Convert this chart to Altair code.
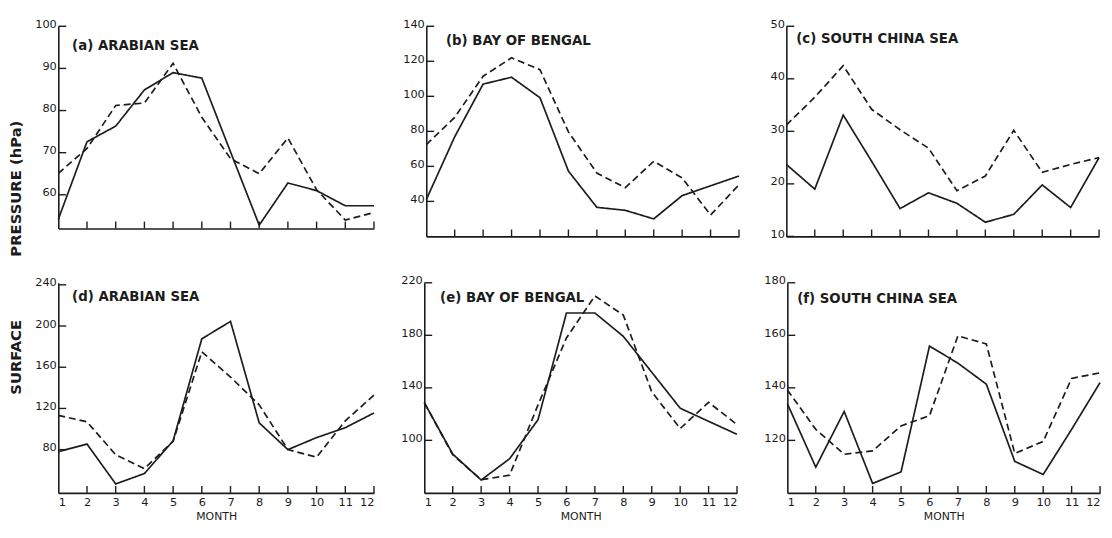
import altair as alt
import pandas as pd

months = list(range(1, 13))

# (a) Arabian Sea – upper panel
a_solid = [54.2, 72.6, 76.3, 84.9, 89.0, 87.7, 70.2, 52.8, 62.8, 61.0, 57.4, 57.4]
a_dashed = [65.1, 71.0, 81.2, 81.8, 91.2, 78.4, 68.6, 65.0, 73.5, 61.2, 54.0, 55.8]
# (b) Bay of Bengal – upper panel
b_solid = [41.0, 76.9, 107.0, 110.9, 99.2, 57.3, 36.6, 34.9, 30.0, 43.3, 48.9, 54.5]
b_dashed = [72.4, 88.0, 111.5, 122.0, 115.2, 79.7, 56.2, 47.8, 62.9, 53.4, 32.2, 49.5]
# (c) South China Sea – upper panel
c_solid = [23.7, 19.0, 33.1, 24.3, 15.3, 18.3, 16.3, 12.7, 14.2, 19.8, 15.5, 25.0]
c_dashed = [31.2, 36.5, 42.5, 34.2, 30.3, 26.8, 18.7, 21.5, 30.2, 22.2, 23.7, 25.0]
# (d) Arabian Sea – lower panel
d_solid = [78.0, 85.4, 46.7, 56.8, 88.6, 187.6, 204.5, 106.0, 80.0, 91.7, 101.3, 115.6]
d_dashed = [113.3, 107.0, 75.0, 61.6, 88.0, 175.0, 150.5, 123.5, 80.0, 72.7, 108.0, 133.0]
# (e) Bay of Bengal – lower panel
e_solid = [128.7, 89.6, 69.8, 86.0, 115.7, 197.0, 197.0, 179.2, 151.9, 124.5, 114.5, 104.6]
e_dashed = [128.7, 89.0, 70.0, 73.5, 127.0, 178.0, 210.0, 195.4, 137.0, 109.0, 129.0, 112.0]
# (f) South China Sea – lower panel
f_solid = [134.0, 109.8, 131.0, 103.6, 108.0, 155.9, 149.4, 141.4, 112.0, 107.0, 124.2, 142.0]
f_dashed = [139.2, 124.2, 114.7, 116.0, 125.5, 129.4, 159.8, 156.7, 115.0, 119.6, 143.6, 145.7]

panel_labels = ["(a) ARABIAN SEA", "(b) BAY OF BENGAL", "(c) SOUTH CHINA SEA",
                "(d) ARABIAN SEA", "(e) BAY OF BENGAL", "(f) SOUTH CHINA SEA"]
y_domains = [[52, 100], [20, 140], [10, 50], [38, 242], [60, 220], [100, 180]]
y_ticks = [[60, 70, 80, 90, 100], [40, 60, 80, 100, 120, 140], [10, 20, 30, 40, 50],
           [80, 120, 160, 200, 240], [100, 140, 180, 220], [120, 140, 160, 180]]
x_tick_marks = months[1:]
series_names = ["solid", "dashed"]

INK = "#1c1c1c"
FONT = "DejaVu Sans"


def make_panel(label, solid, dashed, ydom, yt, width, height, bottom_row, ytitle, title_y,
               lab_x, lab_y, flush=False):
    df = pd.DataFrame({
        "month": months * 2,
        "value": solid + dashed,
        "series": ["solid"] * 12 + ["dashed"] * 12,
    })
    xscale = alt.Scale(domain=[1, 12], nice=False, zero=False)
    yscale = alt.Scale(domain=ydom, nice=False, zero=False)

    xaxis_kw = dict(ticks=False, grid=False, domainColor=INK, domainWidth=1.6)
    if bottom_row:
        xaxis_kw.update(values=months, labels=True, title="MONTH", labelFont=FONT,
                        labelFontSize=11.5, labelColor=INK, labelPadding=4, labelOverlap=False,
                        titleFont=FONT, titleFontSize=11, titleFontWeight="normal",
                        titleColor=INK, titlePadding=2, format="d")
        if flush:
            xaxis_kw["labelFlush"] = True
    else:
        xaxis_kw.update(labels=False, title=None)

    yaxis_kw = dict(values=yt, ticks=False, grid=False, domainColor=INK, domainWidth=1.6,
                    labelFont=FONT, labelFontSize=11.5, labelColor=INK, labelPadding=2,
                    labelOverlap=False, labelBaseline="alphabetic", labelOffset=1, format="d")
    if ytitle:
        yaxis_kw.update(title=ytitle, titleFont=FONT, titleFontSize=15, titleFontWeight="bold",
                        titleColor=INK, titleAngle=270, titleAlign="left", titleBaseline="top",
                        titleX=-50, titleY=title_y)
    else:
        yaxis_kw.update(title=None)

    xaxis = alt.Axis(**xaxis_kw)
    yaxis = alt.Axis(**yaxis_kw)

    lines = alt.Chart(df).mark_line(color=INK, strokeWidth=1.7).encode(
        x=alt.X("month:Q", scale=xscale, axis=xaxis),
        y=alt.Y("value:Q", scale=yscale, axis=yaxis),
        strokeDash=alt.StrokeDash("series:N", scale=alt.Scale(domain=series_names, range=[[1, 0], [7, 4]]),
                                  legend=None),
        detail="series:N",
    )

    ytick_rules = alt.Chart(pd.DataFrame({"value": yt})).mark_rule(color=INK, strokeWidth=1.4).encode(
        y=alt.Y("value:Q", scale=yscale, axis=yaxis),
        x=alt.value(0), x2=alt.value(8),
    )
    xtick_rules = alt.Chart(pd.DataFrame({"month": x_tick_marks})).mark_rule(color=INK, strokeWidth=1.4).encode(
        x=alt.X("month:Q", scale=xscale, axis=xaxis),
        y=alt.value(height), y2=alt.value(height - 7),
    )
    text = alt.Chart(pd.DataFrame({"t": [label]})).mark_text(
        align="left", baseline="middle", font=FONT, fontSize=13.5, fontWeight="bold", color=INK
    ).encode(text="t:N", x=alt.value(lab_x), y=alt.value(lab_y))

    return alt.layer(lines, ytick_rules, xtick_rules, text).properties(width=width, height=height)


pa = make_panel(panel_labels[0], a_solid, a_dashed, y_domains[0], y_ticks[0], 320, 205, False,
                "PRESSURE (hPa)", 233, 14, 20)
pb = make_panel(panel_labels[1], b_solid, b_dashed, y_domains[1], y_ticks[1], 317, 213, False,
                None, 0, 20, 15)
pc = make_panel(panel_labels[2], c_solid, c_dashed, y_domains[2], y_ticks[2], 317, 213, False,
                None, 0, 10, 13)
pd_ = make_panel(panel_labels[3], d_solid, d_dashed, y_domains[3], y_ticks[3], 320, 213, True,
                 "SURFACE", 113, 14, 14)
pe = make_panel(panel_labels[4], e_solid, e_dashed, y_domains[4], y_ticks[4], 317, 213, True,
                None, 0, 16, 15)
pf = make_panel(panel_labels[5], f_solid, f_dashed, y_domains[5], y_ticks[5], 317, 213, True,
                None, 0, 10, 16, flush=True)

top = alt.hconcat(alt.hconcat(pa, pb, spacing=25), pc, spacing=27)
bot = alt.hconcat(alt.hconcat(pd_, pe, spacing=23), pf, spacing=23)

chart = alt.vconcat(top, bot, spacing=19).properties(
    padding={"left": 0, "top": 7, "right": 0, "bottom": 0},
    background="white",
).configure_view(stroke=None)

chart.save("out.html", embed_options={"renderer": "svg", "actions": False})
